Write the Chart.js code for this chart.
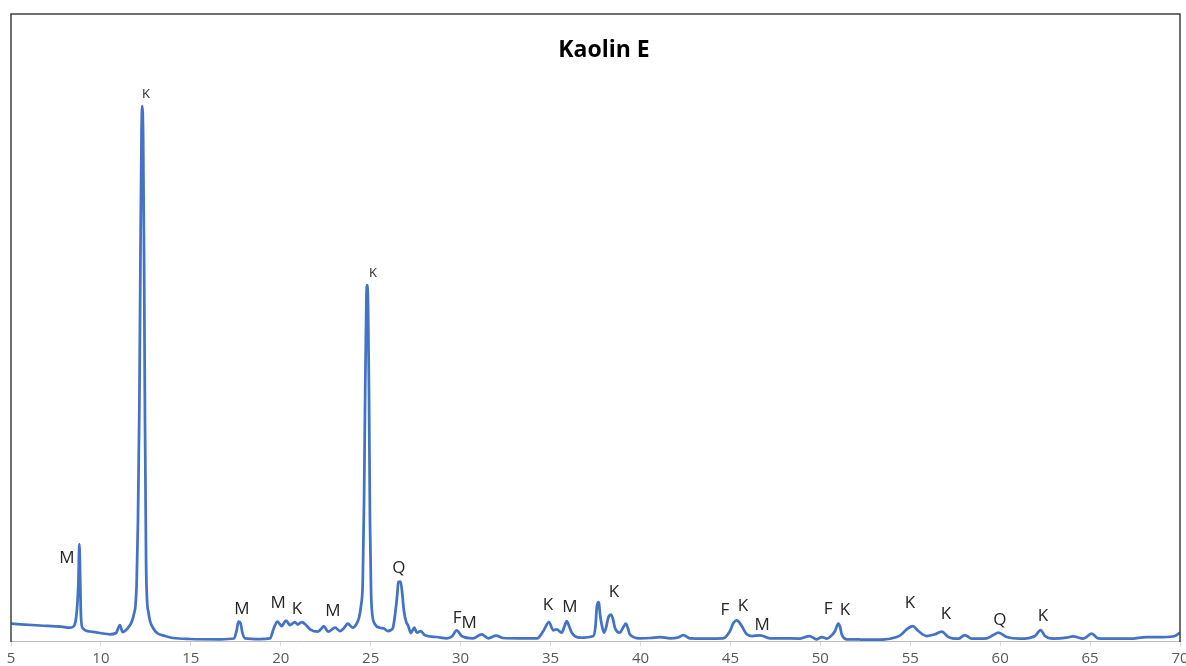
<!DOCTYPE html>
<html>
<head>
<meta charset="utf-8">
<script src="https://cdn.jsdelivr.net/npm/chart.js@4.4.1/dist/chart.umd.min.js"></script>
<style>
  html, body { margin: 0; padding: 0; background: #ffffff; }
  #wrap { width: 1186px; height: 666px; position: relative; }
</style>
</head>
<body>
<div id="wrap"><canvas id="c" width="1186" height="666"></canvas></div>
<script>
// ---- Data (2θ in degrees, intensity in arbitrary units) ----
const twoTheta = [
  5.00, 6.61, 7.78, 8.28, 8.50, 8.61, 8.70, 8.75, 8.80, 8.85, 8.89, 8.98, 9.39, 9.95, 10.50, 10.84, 11.06, 11.20, 11.34, 11.62,
  11.73, 11.85, 11.92, 11.99, 12.06, 12.14, 12.20, 12.26, 12.30, 12.35, 12.40, 12.45, 12.51, 12.56, 12.65, 12.73, 12.90, 13.12, 13.56, 14.01,
  14.95, 16.62, 17.40, 17.54, 17.65, 17.76, 17.87, 18.01, 18.84, 19.40, 19.62, 19.81, 20.05, 20.29, 20.51, 20.79, 20.94, 21.16, 21.40, 21.63,
  22.07, 22.29, 22.40, 22.63, 23.02, 23.29, 23.52, 23.72, 24.00, 24.24, 24.35, 24.46, 24.56, 24.63, 24.70, 24.76, 24.79, 24.85, 24.91, 24.96,
  25.02, 25.07, 25.24, 25.52, 25.74, 25.96, 26.13, 26.24, 26.38, 26.48, 26.54, 26.66, 26.74, 26.85, 26.96, 27.09, 27.24, 27.42, 27.57, 27.78,
  28.02, 28.67, 29.23, 29.52, 29.78, 30.06, 30.69, 31.17, 31.54, 31.97, 32.36, 33.30, 34.25, 34.60, 34.91, 35.15, 35.34, 35.62, 35.78, 35.90,
  36.03, 36.18, 36.64, 37.38, 37.50, 37.57, 37.65, 37.70, 37.75, 37.86, 37.97, 38.08, 38.21, 38.36, 38.47, 38.58, 38.86, 39.02, 39.19, 39.30,
  39.41, 39.97, 40.53, 41.09, 41.64, 42.09, 42.38, 42.75, 43.59, 44.59, 44.98, 45.17, 45.35, 45.48, 45.63, 45.91, 46.20, 46.65, 47.20, 47.76,
  48.87, 49.39, 49.80, 50.08, 50.37, 50.65, 50.82, 51.00, 51.10, 51.19, 51.47, 52.21, 53.32, 54.25, 54.54, 54.80, 55.14, 55.45, 55.91, 56.38,
  56.75, 57.12, 57.67, 58.04, 58.42, 59.25, 59.62, 59.90, 60.36, 61.10, 61.94, 62.25, 62.49, 62.95, 63.70, 64.06, 64.62, 65.09, 65.45, 66.38,
  67.22, 68.14, 69.07, 69.72, 70.00
];
const intensity = [
  17.3, 15.5, 14.3, 13.3, 15.0, 22.0, 40.0, 60.0, 97.0, 60.0, 25.0, 13.0, 9.5, 8.0, 6.7, 8.0, 16.0, 9.0, 10.0, 16.0,
  20.0, 28.0, 35.0, 60.0, 120.0, 240.0, 390.0, 510.0, 535.0, 500.0, 380.0, 220.0, 80.0, 43.0, 28.0, 20.0, 13.0, 8.0, 5.0, 3.0,
  2.0, 1.7, 2.5, 10.0, 19.5, 18.0, 8.0, 2.7, 2.0, 2.7, 13.0, 19.5, 15.0, 20.5, 16.0, 19.0, 16.5, 19.0, 16.0, 11.7,
  9.3, 13.0, 15.0, 9.3, 13.3, 10.0, 13.0, 17.3, 13.3, 18.0, 23.3, 35.0, 60.0, 140.0, 260.0, 340.0, 356.0, 340.0, 240.0, 120.0,
  50.0, 30.0, 16.7, 13.3, 12.5, 10.0, 11.0, 13.3, 30.0, 47.0, 59.0, 59.5, 50.0, 30.0, 20.0, 15.0, 8.0, 13.3, 8.3, 10.0,
  5.7, 4.0, 2.7, 4.5, 10.7, 5.0, 2.7, 6.7, 2.7, 5.3, 3.0, 2.7, 2.7, 10.0, 19.0, 10.7, 11.7, 8.3, 15.0, 20.0,
  15.0, 8.3, 3.3, 5.0, 15.0, 33.3, 39.0, 37.0, 27.0, 15.0, 8.3, 13.0, 23.3, 26.3, 22.0, 13.3, 8.3, 13.0, 17.3, 13.0,
  6.7, 2.7, 3.0, 4.0, 2.7, 3.5, 6.0, 2.7, 2.5, 2.7, 10.0, 18.0, 20.7, 19.0, 15.0, 6.7, 5.0, 5.7, 2.7, 2.7,
  2.5, 5.0, 1.7, 4.0, 2.5, 6.0, 10.0, 17.3, 14.0, 6.7, 1.7, 1.5, 1.3, 4.0, 7.0, 11.7, 15.0, 10.0, 5.0, 6.7,
  9.5, 4.0, 2.3, 6.0, 2.3, 2.7, 6.0, 8.3, 4.0, 2.3, 5.0, 11.0, 5.0, 2.3, 3.3, 4.7, 2.3, 7.3, 2.7, 2.3,
  2.3, 4.0, 4.0, 5.0, 8.3
];

// Phase labels: M = mica, K = kaolinite, Q = quartz, F = feldspar
const peakLabels = ['M', 'K', 'M', 'M', 'K', 'M', 'K', 'Q', 'F', 'M', 'K', 'M', 'K', 'F', 'K', 'M', 'F', 'K', 'K', 'K', 'Q', 'K'];
const labelX     = [8.11, 12.51, 17.84, 19.85, 20.90, 22.90, 25.13, 26.57, 29.80, 30.47, 34.86, 36.08, 38.53, 44.70, 45.70, 46.76, 50.43, 51.37, 54.99, 56.99, 59.99, 62.38];
const labelY     = [83, 547, 32, 38, 32, 30, 368, 73, 23, 18, 36, 34, 49, 31, 35, 16, 32, 31, 38, 27, 21, 25];
const labelSmall = [false, true, false, false, false, false, true, false, false, false, false, false, false, false, false, false, false, false, false, false, false, false];

const xTicks = [5, 10, 15, 20, 25, 30, 35, 40, 45, 50, 55, 60, 65, 70];
const chartTitle = 'Kaolin E';

const points = twoTheta.map((x, i) => ({ x: x, y: intensity[i] }));

const framePlugin = {
  id: 'frame',
  afterDraw(chart) {
    const { ctx, chartArea: a, scales } = chart;
    ctx.save();
    // frame (top, left, right)
    ctx.strokeStyle = '#404040';
    ctx.lineWidth = 1.5;
    ctx.beginPath();
    ctx.moveTo(a.left, a.bottom + 1);
    ctx.lineTo(a.left, a.top);
    ctx.lineTo(a.right, a.top);
    ctx.lineTo(a.right, a.bottom + 1);
    ctx.stroke();
    // title
    ctx.fillStyle = '#000000';
    ctx.font = 'bold 23px "Open Sans", "DejaVu Sans", sans-serif';
    ctx.textAlign = 'center';
    ctx.textBaseline = 'middle';
    ctx.fillText(chartTitle, 604, 50);
    // peak labels
    ctx.fillStyle = '#262626';
    for (let i = 0; i < peakLabels.length; i++) {
      const px = scales.x.getPixelForValue(labelX[i]);
      const py = scales.y.getPixelForValue(labelY[i]);
      ctx.font = (labelSmall[i] ? '13px' : '17px') + ' "Open Sans", "DejaVu Sans", sans-serif';
      ctx.fillText(peakLabels[i], px, py);
    }
    ctx.restore();
  }
};

new Chart(document.getElementById('c'), {
  type: 'line',
  data: {
    datasets: [{
      data: points,
      borderColor: '#4472C4',
      borderWidth: 2.75,
      pointRadius: 0,
      fill: false,
      cubicInterpolationMode: 'monotone'
    }]
  },
  options: {
    responsive: false,
    animation: false,
    layout: { padding: { top: 14, left: 11, right: 6, bottom: 0 } },
    plugins: {
      legend: { display: false },
      title: { display: false },
      tooltip: { enabled: false }
    },
    scales: {
      x: {
        type: 'linear',
        min: 5,
        max: 70,
        afterBuildTicks(scale) { scale.ticks = xTicks.map(v => ({ value: v })); },
        afterFit(scale) { scale.height = 25; scale.paddingLeft = 0; scale.paddingRight = 0; },
        grid: { display: true, drawOnChartArea: false, drawTicks: true, tickLength: 5, color: '#d9d9d9' },
        border: { display: true, color: '#bfbfbf', width: 1 },
        ticks: {
          padding: 4,
          color: '#595959',
          font: { family: '"Open Sans", "DejaVu Sans", sans-serif', size: 15 },
          maxRotation: 0,
          autoSkip: false
        }
      },
      y: {
        display: false,
        min: 0,
        max: 627
      }
    }
  },
  plugins: [framePlugin]
});
</script>
</body>
</html>
